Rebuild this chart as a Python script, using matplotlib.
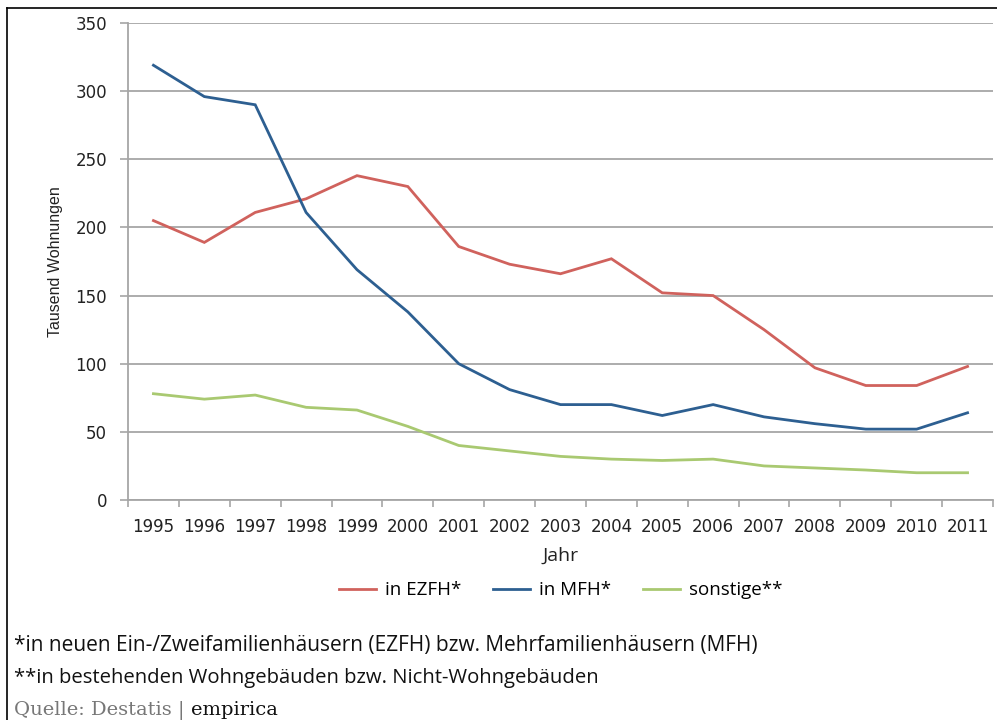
import matplotlib.pyplot as plt
from matplotlib import font_manager
from matplotlib.lines import Line2D

# Data (Tausend Wohnungen)
years = ['1995', '1996', '1997', '1998', '1999', '2000', '2001', '2002', '2003',
         '2004', '2005', '2006', '2007', '2008', '2009', '2010', '2011']
ezfh = [205, 189, 211, 221, 238, 230, 186, 173, 166, 177, 152, 150, 125, 97, 84, 84, 98]
mfh = [319, 296, 290, 211, 169, 138, 100, 81, 70, 70, 62, 70, 61, 56, 52, 52, 64]
sonstige = [78, 74, 77, 68, 66, 54, 40, 36, 32, 30, 29, 30, 25, 23.5, 22, 20, 20]
labels = ['in EZFH*', 'in MFH*', 'sonstige**']
colors = ['#D0625D', '#2D5F91', '#A9C971']

installed = {f.name for f in font_manager.fontManager.ttflist}
narrow = 'Liberation Sans Narrow' if 'Liberation Sans Narrow' in installed else 'DejaVu Sans Condensed'
if narrow not in installed:
    narrow = 'Liberation Sans'

W, H = 997, 720
fig = plt.figure(figsize=(W / 100, H / 100), dpi=100)
ax = fig.add_axes([128 / W, 1 - 500 / H, (993 - 128) / W, (500 - 23) / H])

x = list(range(len(years)))
for vals, lab, col in zip([ezfh, mfh, sonstige], labels, colors):
    ax.plot(x, vals, color=col, lw=2.0, label=lab, solid_joinstyle='miter')

ax.set_xlim(-0.5, len(years) - 0.5)
ax.set_ylim(0, 350)
ax.set_yticks(range(0, 351, 50))
ax.yaxis.grid(True, color='#A6A6A6', lw=1.3)
ax.set_axisbelow(True)

ax.set_xticks(x)
ax.set_xticklabels(years, fontsize=12, fontfamily='DejaVu Sans', color='#222222')
ax.set_xticks([i - 0.5 for i in range(len(years) + 1)], minor=True)
ax.tick_params(axis='x', which='major', length=0, pad=13)
ax.tick_params(axis='x', which='minor', length=5, color='#A6A6A6', width=1.2)
ax.tick_params(axis='y', length=6, color='#A6A6A6', width=1.2, labelsize=12,
               labelcolor='#222222', pad=9)

for s in ['top', 'right']:
    ax.spines[s].set_visible(False)
for s in ['left', 'bottom']:
    ax.spines[s].set_color('#A6A6A6')
    ax.spines[s].set_linewidth(1.3)

ax.set_ylabel('Tausend Wohnungen', fontfamily=narrow, fontsize=11.5, color='#222222',
              labelpad=9)
ax.set_xlabel('Jahr', fontfamily='Open Sans', fontsize=14, color='#222222', labelpad=8)

ax.legend(loc='upper center', bbox_to_anchor=(0.5, -0.135), ncol=3, frameon=False,
          prop={'family': 'Open Sans', 'size': 13.5}, handlelength=2.0,
          columnspacing=1.7, handletextpad=0.45)

# footer notes
fig.text(14 / W, 1 - 645 / H, '*in neuen Ein-/Zweifamilienhäusern (EZFH) bzw. Mehrfamilienhäusern (MFH)',
         fontfamily='Open Sans', fontsize=15.0, color='#111111', va='center')
fig.text(14 / W, 1 - 678 / H, '**in bestehenden Wohngebäuden bzw. Nicht-Wohngebäuden',
         fontfamily='Open Sans', fontsize=14.6, color='#111111', va='center')
src = fig.text(14 / W, 1 - 710 / H, 'Quelle: Destatis | ', fontfamily='DejaVu Serif',
               fontsize=14, color='#777777', va='center')
fig.canvas.draw()
bb = src.get_window_extent()
fig.text(bb.x1 / W, 1 - 710 / H, 'empirica', fontfamily='DejaVu Serif', fontsize=14,
         color='#111111', va='center')

# outer frame (left and top edge)
fig.add_artist(Line2D([7 / W, 7 / W], [0, 1 - 8 / H], color='black', lw=1.2))
fig.add_artist(Line2D([7 / W, 1], [1 - 8 / H, 1 - 8 / H], color='black', lw=1.2))

fig.savefig('out.png', dpi=100)
